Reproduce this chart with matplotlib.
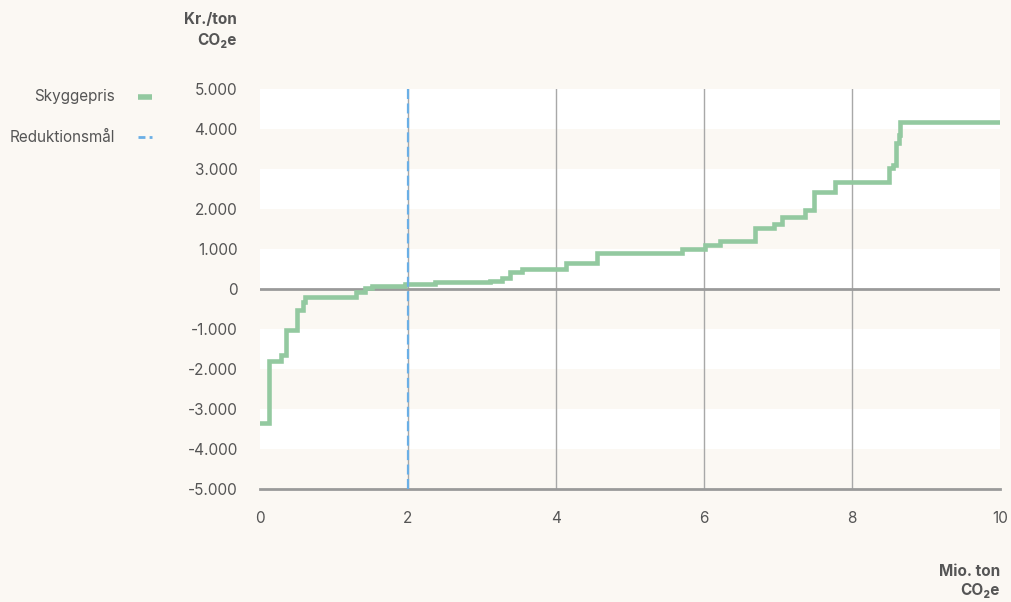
import matplotlib
matplotlib.use("Agg")
import matplotlib.pyplot as plt
from matplotlib.lines import Line2D

plt.rcParams['font.family'] = ['Inter', 'DejaVu Sans']

# step curve: start of each step (mio. ton) and its price (kr./ton)
step_x = [0, 0.12, 0.29, 0.35, 0.50, 0.58, 0.61, 1.30, 1.42, 1.51, 1.96, 2.36,
          3.11, 3.27, 3.38, 3.54, 4.14, 4.55, 5.65, 5.70, 6.02, 6.22, 6.69, 6.94,
          7.05, 7.36, 7.49, 7.77, 8.50, 8.55, 8.60, 8.63, 8.65, 10]
step_y = [-3350, -1800, -1650, -1025, -525, -320, -190, -65, 20, 80, 120, 180,
          210, 285, 425, 490, 660, 890, 910, 1000, 1100, 1210, 1515, 1625,
          1810, 1975, 2430, 2670, 3015, 3100, 3640, 3850, 4180, 4180]
target_x = 2
y_ticks = [-5000, -4000, -3000, -2000, -1000, 0, 1000, 2000, 3000, 4000, 5000]
x_ticks = [0, 2, 4, 6, 8, 10]
legend_labels = ["Skyggepris", "Reduktionsmål"]

BG = "#fbf8f3"
GREEN = "#93c9a0"
BLUE = "#6aafe6"
TXT = "#555555"

fig = plt.figure(figsize=(10.11, 6.02), dpi=100, facecolor=BG)
ax = fig.add_axes([260/1011, 1-489/602, 740/1011, 400/602])
ax.set_facecolor(BG)

# alternating bands
for i, lo in enumerate(y_ticks[:-1]):
    if (len(y_ticks) - 2 - i) % 2 == 0:
        ax.axhspan(lo, lo + 1000, color="white", lw=0, zorder=0)

for v in x_ticks[1:-1]:
    ax.axvline(v, color="#a8a8a8", lw=1, zorder=1)
ax.axhline(0, color="#9a9a9a", lw=2, zorder=2)
ax.axhline(-5000, color="#9a9a9a", lw=2, zorder=2, clip_on=False)

ax.plot(step_x, step_y, drawstyle="steps-post", color=GREEN, lw=3.3,
        solid_joinstyle="miter", zorder=4)
ax.axvline(target_x, color=BLUE, lw=1.6, ls=(0, (4.5, 2)), zorder=5)

ax.set_xlim(0, 10)
ax.set_ylim(-5000, 5000)
ax.set_xticks(x_ticks)
ax.set_yticks(y_ticks)
ax.set_yticklabels([f"{v:,}".replace(",", ".") for v in y_ticks])
ax.tick_params(length=0, labelsize=11, labelcolor=TXT, pad=16)
for s in ax.spines.values():
    s.set_visible(False)

fig.text(237/1011, 1-20/602, "Kr./ton", ha="right", va="center",
         fontsize=11, fontweight="bold", color=TXT)
fig.text(237/1011, 1-40/602, "CO₂e", ha="right", va="center",
         fontsize=11, fontweight="bold", color=TXT)
fig.text(1000/1011, 1-572/602, "Mio. ton", ha="right", va="center",
         fontsize=11, fontweight="bold", color=TXT)
fig.text(1000/1011, 1-591/602, "CO₂e", ha="right", va="center",
         fontsize=11, fontweight="bold", color=TXT)

# legend drawn by hand: label right-aligned, short key to the right
leg_styles = [dict(color=GREEN, lw=4, solid_capstyle="butt"),
              dict(color=BLUE, lw=2, ls=(0, (2.5, 1.5)))]
for k, (lab, st) in enumerate(zip(legend_labels, leg_styles)):
    yy = 1 - (97 + 40 * k) / 602
    fig.text(115/1011, yy, lab, ha="right", va="center", fontsize=11, color=TXT)
    fig.add_artist(Line2D([138/1011, 152/1011], [yy, yy],
                          transform=fig.transFigure, **st))

fig.savefig("out.png", dpi=100, facecolor=BG)
